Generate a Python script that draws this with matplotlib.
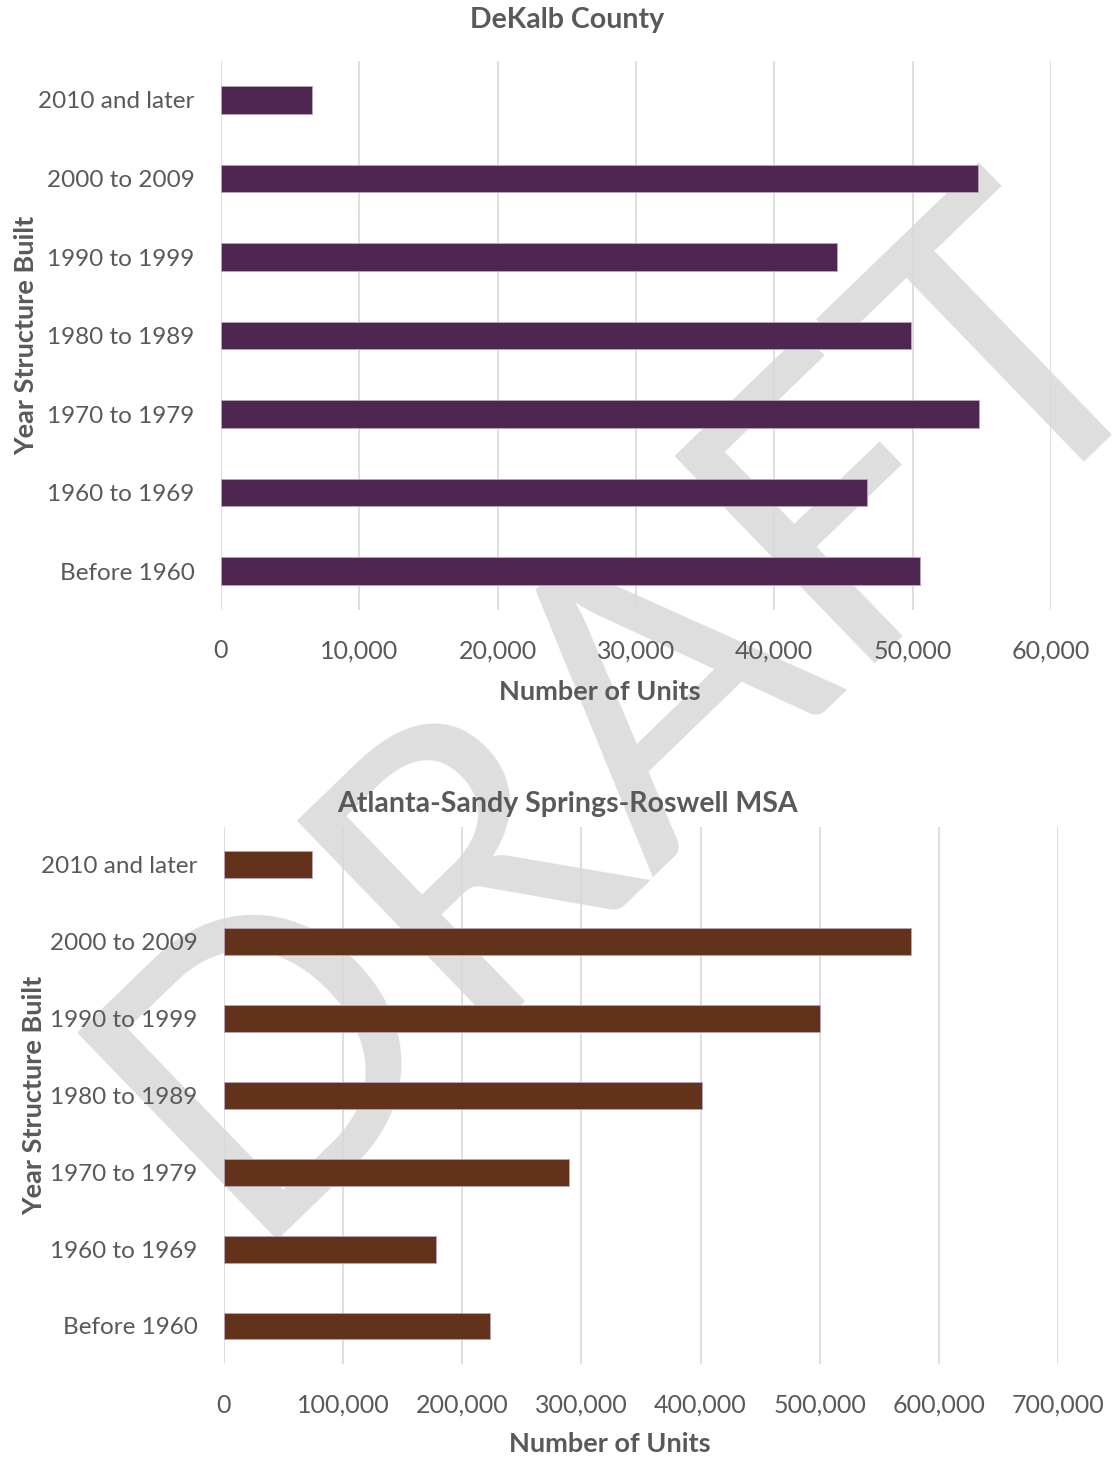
import matplotlib
matplotlib.use("Agg")
import matplotlib.pyplot as plt
from matplotlib.ticker import FuncFormatter

plt.rcParams['font.family'] = ['Lato', 'DejaVu Sans']

categories = ['2010 and later', '2000 to 2009', '1990 to 1999', '1980 to 1989',
              '1970 to 1979', '1960 to 1969', 'Before 1960']
dekalb_units = [6600, 54700, 44500, 49900, 54800, 46700, 50500]
msa_units = [74000, 577000, 500000, 401000, 290000, 178000, 223000]

dekalb_ticks = [0, 10000, 20000, 30000, 40000, 50000, 60000]
msa_ticks = [0, 100000, 200000, 300000, 400000, 500000, 600000, 700000]

TEXT = '#595959'
GRID = '#d9d9d9'

fig = plt.figure(figsize=(11.12, 14.60), dpi=100)

# DRAFT watermark behind both charts
fig.text(0.565, 0.515, 'DRAFT', fontsize=290, color='#dedede', rotation=44,
         rotation_mode='anchor', ha='center', va='center', zorder=-5)

ax1 = fig.add_axes([0.1987, 0.582, 0.7464, 0.3764])
ax2 = fig.add_axes([0.2014, 0.0655, 0.75, 0.3684])


def style(ax, values, ticks, color, label_x, label_y, ylab_x):
    ax.set_facecolor('none')
    ypos = list(range(len(categories)))
    ax.barh(ypos, values, height=0.35, color=color, edgecolor='#b8a8b8',
            linewidth=0.6, zorder=3)
    ax.set_yticks(ypos)
    ax.set_yticklabels(categories)
    ax.set_ylim(len(categories) - 0.5, -0.5)
    ax.set_xlim(ticks[0], ticks[-1])
    ax.set_xticks(ticks)
    ax.xaxis.set_major_formatter(FuncFormatter(lambda v, p: f'{int(v):,}'))
    ax.grid(axis='x', color=GRID, linewidth=1.2, zorder=1)
    ax.set_axisbelow(True)
    for s in ax.spines.values():
        s.set_visible(False)
    ax.tick_params(axis='both', length=0, labelcolor=TEXT)
    ax.tick_params(axis='y', pad=19, labelsize=17.5)
    ax.tick_params(axis='x', pad=21, labelsize=18)
    ax.set_xlabel('Number of Units', fontsize=19.5, fontweight='bold', color=TEXT)
    ax.xaxis.set_label_coords(label_x, label_y)
    ax.xaxis.label.set_va('center')
    ax.set_ylabel('Year Structure Built', fontsize=19.5, fontweight='bold', color=TEXT)
    ax.yaxis.set_label_coords(ylab_x, 0.5)
    ax.yaxis.label.set_va('center')


style(ax1, dekalb_units, dekalb_ticks, '#4f2652', 0.4566, -0.1488, -0.235)
style(ax2, msa_units, msa_ticks, '#62331a', 0.4628, -0.148, -0.228)

fig.text(567 / 1112, 1 - 20 / 1460, 'DeKalb County', fontsize=20.5,
         fontweight='bold', color=TEXT, ha='center', va='center')
fig.text(567 / 1112, 1 - 804 / 1460, 'Atlanta-Sandy Springs-Roswell MSA',
         fontsize=20.5, fontweight='bold', color=TEXT, ha='center', va='center')

fig.savefig('out.png', dpi=100, facecolor='white')
